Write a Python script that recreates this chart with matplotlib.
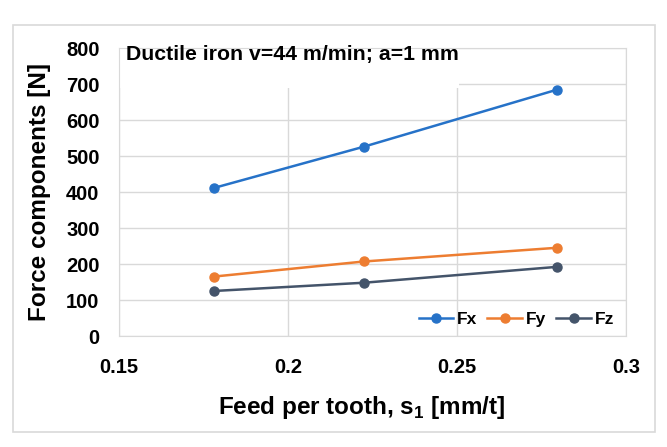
import matplotlib.pyplot as plt
from matplotlib.patches import Rectangle

feed = [0.178, 0.2225, 0.2795]
fx = [411, 526, 684]
fy = [165, 207, 245]
fz = [125, 148, 192]
series = [("Fx", fx, "#2672C8"), ("Fy", fy, "#ED7D31"), ("Fz", fz, "#44546A")]

plt.rcParams['font.family'] = ['Liberation Sans', 'DejaVu Sans']
plt.rcParams['font.weight'] = 'bold'

fig = plt.figure(figsize=(6.67, 4.47), dpi=100)
fig.patches.append(Rectangle((13 / 667, 1 - 432 / 447), 642 / 667, 407 / 447,
                             transform=fig.transFigure, fill=False,
                             edgecolor="#d9d9d9", lw=1.2))
ax = fig.add_axes([119 / 667, 1 - 336 / 447, 507 / 667, 288 / 447])

for name, vals, c in series:
    ax.plot(feed, vals, color=c, lw=1.8, marker="o", ms=6.5, label=name, zorder=3)

ax.set_xlim(0.15, 0.3)
ax.set_ylim(0, 800)
ax.set_xticks([0.15, 0.2, 0.25, 0.3])
ax.set_xticklabels(["0.15", "0.2", "0.25", "0.3"])
ax.set_yticks(range(0, 801, 100))
ax.grid(True, color="#d9d9d9", lw=1)
ax.set_axisbelow(True)
for s in ax.spines.values():
    s.set_color("#d9d9d9")
ax.tick_params(length=0, labelsize=14.5)
ax.tick_params(axis="x", pad=16)
ax.tick_params(axis="y", pad=14)

yl = ax.set_ylabel("Force components [N]", fontsize=17.5, fontweight="bold")
yl.set_va("center")
ax.yaxis.set_label_coords(-0.156, 0.5)
xl = ax.set_xlabel("Feed per tooth, s$_\\mathregular{1}$ [mm/t]", fontsize=17.5,
                   fontweight="bold")
xl.set_va("center")
ax.xaxis.set_label_coords(0.478, -0.247)

ax.add_patch(Rectangle((0.002, 0.86), 0.668, 0.15, transform=ax.transAxes,
                       facecolor="white", edgecolor="none", zorder=2,
                       clip_on=False))
ax.text(0.013, 0.978, "Ductile iron v=44 m/min; a=1 mm", transform=ax.transAxes,
        fontsize=15.3, fontweight="bold", va="center", ha="left", zorder=4)

ax.legend(loc="lower right", ncol=3, frameon=False, fontsize=12.5,
          handlelength=2.0, handletextpad=0.2, columnspacing=0.6,
          borderpad=0.2, bbox_to_anchor=(1.0, -0.01))

fig.savefig("out.png", dpi=100)
